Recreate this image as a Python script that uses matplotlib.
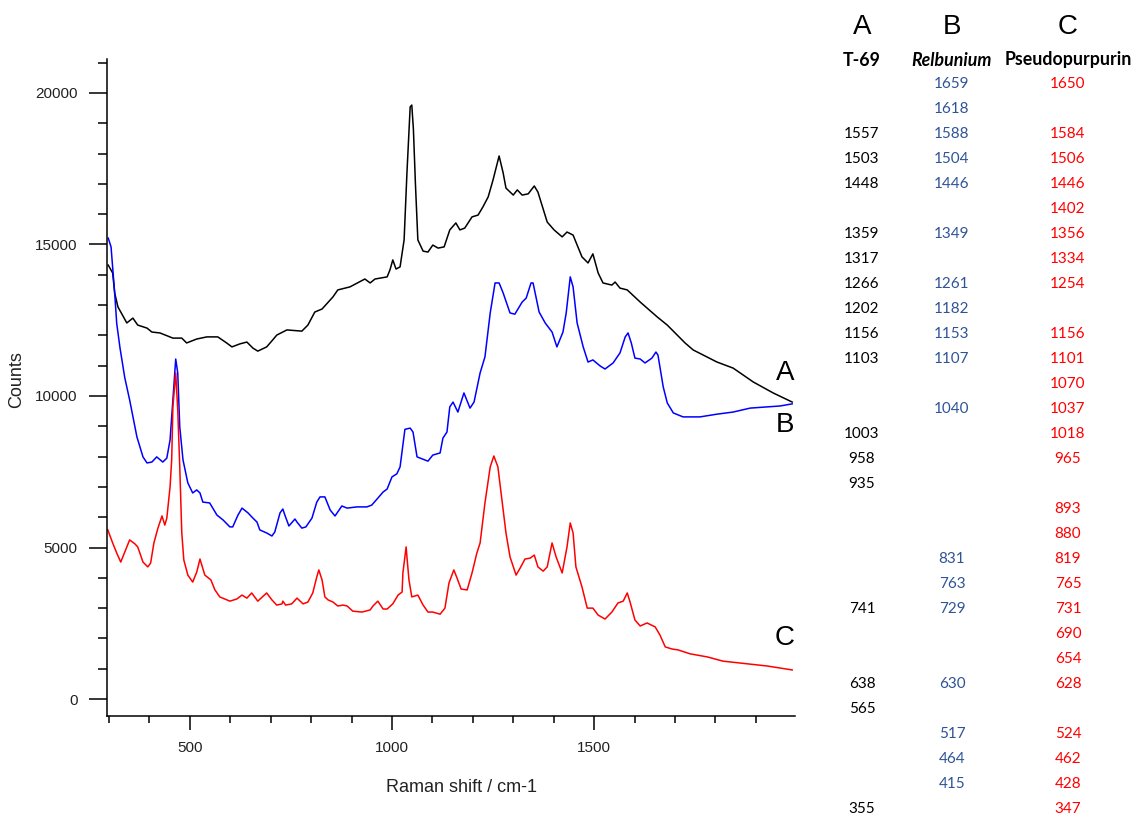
import matplotlib
matplotlib.use("Agg")
import matplotlib.pyplot as plt
from matplotlib.ticker import MultipleLocator

# spectrum A (T-69), black
a_x = [298, 309, 314, 322, 344, 359, 371, 394, 406, 426, 458, 480, 492, 517, 542,
       569, 591, 604, 624, 641, 656, 668, 690, 705, 715, 740, 777, 792, 809, 827,
       854, 866, 896, 933, 946, 958, 988, 995, 1002, 1010, 1020, 1030, 1037, 1045,
       1049, 1053, 1058, 1064, 1077, 1089, 1101, 1114, 1129, 1143, 1158, 1168, 1180,
       1198, 1213, 1225, 1238, 1250, 1265, 1275, 1282, 1300, 1310, 1322, 1337, 1352,
       1361, 1384, 1401, 1421, 1433, 1448, 1470, 1485, 1497, 1510, 1522, 1544, 1552,
       1564, 1582, 1614, 1656, 1681, 1725, 1745, 1804, 1844, 1894, 1943, 1990]
a_y = [14320, 14060, 13400, 12940, 12410, 12570, 12340, 12240, 12110, 12080, 11910,
       11910, 11750, 11880, 11950, 11950, 11750, 11620, 11720, 11780, 11580, 11480,
       11620, 11850, 12010, 12180, 12140, 12340, 12770, 12870, 13270, 13500, 13600,
       13860, 13730, 13860, 13930, 14160, 14490, 14190, 14260, 15150, 17360, 19540,
       19600, 18800, 17000, 15150, 14780, 14750, 14980, 14880, 14920, 15480, 15710,
       15480, 15540, 15910, 15970, 16240, 16570, 17130, 17920, 17360, 16860, 16630,
       16800, 16630, 16670, 16930, 16730, 15740, 15480, 15250, 15410, 15310, 14590,
       14390, 14690, 14060, 13730, 13660, 13760, 13560, 13500, 13100, 12610, 12340,
       11750, 11520, 11120, 10920, 10460, 10100, 9800]

# spectrum B (Relbunium), blue
b_x = [298, 305, 314, 319, 327, 339, 351, 369, 384, 394, 406, 418, 433, 443, 451,
       458, 465, 470, 475, 483, 495, 507, 517, 525, 532, 549, 567, 582, 599, 606,
       619, 629, 644, 656, 666, 673, 690, 703, 710, 723, 730, 735, 745, 760, 765,
       777, 787, 802, 814, 822, 834, 847, 859, 876, 889, 913, 938, 950, 965, 978,
       988, 1000, 1012, 1020, 1032, 1045, 1052, 1062, 1089, 1101, 1119, 1126, 1136,
       1143, 1151, 1163, 1178, 1193, 1203, 1218, 1230, 1243, 1255, 1265, 1275, 1292,
       1304, 1322, 1332, 1344, 1349, 1364, 1379, 1396, 1408, 1423, 1431, 1441, 1448,
       1458, 1473, 1485, 1497, 1515, 1527, 1547, 1564, 1577, 1584, 1592, 1601, 1614,
       1626, 1643, 1653, 1658, 1671, 1681, 1696, 1720, 1762, 1804, 1844, 1886, 1928,
       1960, 1990]
b_y = [15210, 14920, 13400, 12400, 11600, 10600, 9870, 8650, 7990, 7790, 7820, 7990,
       7820, 7950, 8550, 9870, 11220, 10760, 8980, 7890, 7130, 6800, 6900, 6800, 6500,
       6470, 6070, 5910, 5680, 5680, 6070, 6300, 6140, 5970, 5840, 5580, 5480, 5380,
       5510, 6140, 6270, 6070, 5710, 5940, 5840, 5640, 5680, 5970, 6500, 6670, 6670,
       6240, 6040, 6370, 6300, 6340, 6340, 6400, 6630, 6830, 6930, 7330, 7430, 7660,
       8900, 8940, 8810, 7990, 7850, 8050, 8120, 8610, 8810, 9640, 9800, 9470, 10100,
       9600, 9800, 10760, 11290, 12740, 13730, 13730, 13400, 12740, 12700, 13100,
       13230, 13730, 13730, 12770, 12410, 12110, 11620, 12110, 12740, 13930, 13600,
       12410, 11620, 11120, 11190, 10990, 10890, 11090, 11420, 11950, 12080, 11750,
       11250, 11220, 11090, 11250, 11450, 11350, 10300, 9770, 9440, 9310, 9310, 9400,
       9470, 9600, 9640, 9670, 9740]

# spectrum C (pseudopurpurin), red
c_x = [297, 309, 319, 329, 339, 351, 364, 371, 384, 396, 403, 411, 421, 431, 438,
       443, 451, 455, 458, 465, 470, 475, 480, 485, 495, 507, 517, 525, 537, 552,
       562, 574, 599, 616, 629, 641, 653, 668, 690, 703, 715, 728, 730, 737, 752,
       765, 780, 792, 804, 814, 819, 827, 834, 842, 854, 866, 879, 889, 903, 926,
       946, 953, 965, 978, 988, 1002, 1015, 1025, 1027, 1035, 1037, 1042, 1049, 1064,
       1077, 1089, 1101, 1119, 1131, 1141, 1153, 1161, 1171, 1186, 1198, 1210, 1218,
       1230, 1243, 1252, 1262, 1272, 1282, 1292, 1307, 1317, 1329, 1342, 1352, 1361,
       1374, 1384, 1396, 1406, 1421, 1433, 1441, 1448, 1455, 1470, 1483, 1497, 1510,
       1527, 1544, 1559, 1572, 1582, 1589, 1601, 1614, 1631, 1651, 1663, 1676, 1693,
       1708, 1738, 1780, 1819, 1879, 1928, 1990]
c_y = [5580, 5150, 4820, 4520, 4850, 5250, 5120, 5020, 4520, 4360, 4490, 5150, 5640,
       6040, 5740, 5970, 7000, 7890, 9640, 10760, 9540, 7660, 5480, 4590, 4090, 3860,
       4190, 4620, 4090, 3930, 3600, 3370, 3230, 3300, 3430, 3330, 3500, 3230, 3500,
       3270, 3100, 3140, 3230, 3100, 3140, 3330, 3140, 3200, 3500, 4030, 4260, 3930,
       3370, 3270, 3200, 3070, 3100, 3070, 2900, 2870, 2940, 3070, 3230, 2970, 2970,
       3140, 3430, 3530, 4160, 5020, 4690, 3930, 3370, 3430, 3100, 2870, 2870, 2800,
       3000, 3830, 4260, 3990, 3630, 3600, 4160, 4820, 5150, 6470, 7660, 8020, 7660,
       6570, 5480, 4690, 4090, 4320, 4620, 4650, 4750, 4360, 4220, 4360, 5150, 4690,
       4160, 5020, 5810, 5480, 4360, 3700, 3000, 3000, 2770, 2640, 2870, 3170, 3230,
       3500, 3200, 2610, 2410, 2510, 2380, 2110, 1720, 1650, 1620, 1490, 1390, 1250,
       1160, 1090, 960]

# band table on the right
col_letters = ["A", "B", "C"]
col_titles = ["T-69", "Relbunium", "Pseudopurpurin"]
bands_a = ["", "", "1557", "1503", "1448", "", "1359", "1317", "1266", "1202",
           "1156", "1103", "", "", "1003", "958", "935", "", "", "", "", "741",
           "", "", "638", "565", "", "", "", "355"]
bands_b = ["1659", "1618", "1588", "1504", "1446", "", "1349", "", "1261", "1182",
           "1153", "1107", "", "1040", "", "", "", "", "", "831", "763", "729",
           "", "", "630", "", "517", "464", "415", ""]
bands_c = ["1650", "", "1584", "1506", "1446", "1402", "1356", "1334", "1254", "",
           "1156", "1101", "1070", "1037", "1018", "965", "", "893", "880", "819",
           "765", "731", "690", "654", "628", "", "524", "462", "428", "347"]

W, H = 1133, 815
fig = plt.figure(figsize=(W / 100, H / 100), dpi=100)
ax = fig.add_axes([107 / W, 1 - 716 / H, 688 / W, 657 / H])

ax.plot(a_x, a_y, color="black", lw=1.1)
ax.plot(b_x, b_y, color="#0000ff", lw=1.1)
ax.plot(c_x, c_y, color="#ff0000", lw=1.1)

ax.set_xlim(295, 1997)
ax.set_ylim(-560, 21120)

for s in ["top", "right"]:
    ax.spines[s].set_visible(False)
for s in ["left", "bottom"]:
    ax.spines[s].set_linewidth(1.1)

ax.xaxis.set_major_locator(MultipleLocator(500))
ax.xaxis.set_minor_locator(MultipleLocator(100))
ax.yaxis.set_major_locator(MultipleLocator(5000))
ax.yaxis.set_minor_locator(MultipleLocator(1000))
ax.tick_params(axis="y", which="major", length=13, width=1.1, pad=8,
               labelsize=11, labelcolor="#222222")
ax.tick_params(axis="y", which="minor", length=6.5, width=1.1)
ax.tick_params(axis="x", which="major", length=10, width=1.1, pad=8,
               labelsize=11, labelcolor="#222222")
ax.tick_params(axis="x", which="minor", length=5, width=1.1)
for lab in ax.get_xticklabels() + ax.get_yticklabels():
    lab.set_family("Liberation Sans")

fig.text(461 / W, 1 - 787 / H, "Raman shift / cm-1", ha="center", va="center",
         fontsize=13, family="Liberation Sans", color="#222222")
fig.text(17 / W, 1 - 380 / H, "Counts", ha="center", va="center", rotation=90,
         fontsize=13, family="Liberation Sans", color="#222222")

# curve labels
for lbl, py in zip(col_letters, [373, 425, 638]):
    fig.text(785 / W, 1 - py / H, lbl, ha="center", va="center", fontsize=20,
             family="Liberation Sans")

# table
col_x = [862, 952, 1068]
col_colors = ["black", "#2f5496", "#ff0000"]
title_styles = ["normal", "italic", "normal"]
for i in range(3):
    fig.text(col_x[i] / W, 1 - 27 / H, col_letters[i], ha="center", va="center",
             fontsize=20, family="Liberation Sans")
    fig.text(col_x[i] / W, 1 - 60 / H, col_titles[i], ha="center", va="center",
             fontsize=12.8, family="Lato", weight="bold", style=title_styles[i])
for col, vals in enumerate([bands_a, bands_b, bands_c]):
    for row, v in enumerate(vals):
        if v:
            fig.text(col_x[col] / W, 1 - (84 + 25 * row) / H, v, ha="center",
                     va="center", fontsize=11, family="Lato",
                     color=col_colors[col])

fig.savefig("out.png", dpi=100)
